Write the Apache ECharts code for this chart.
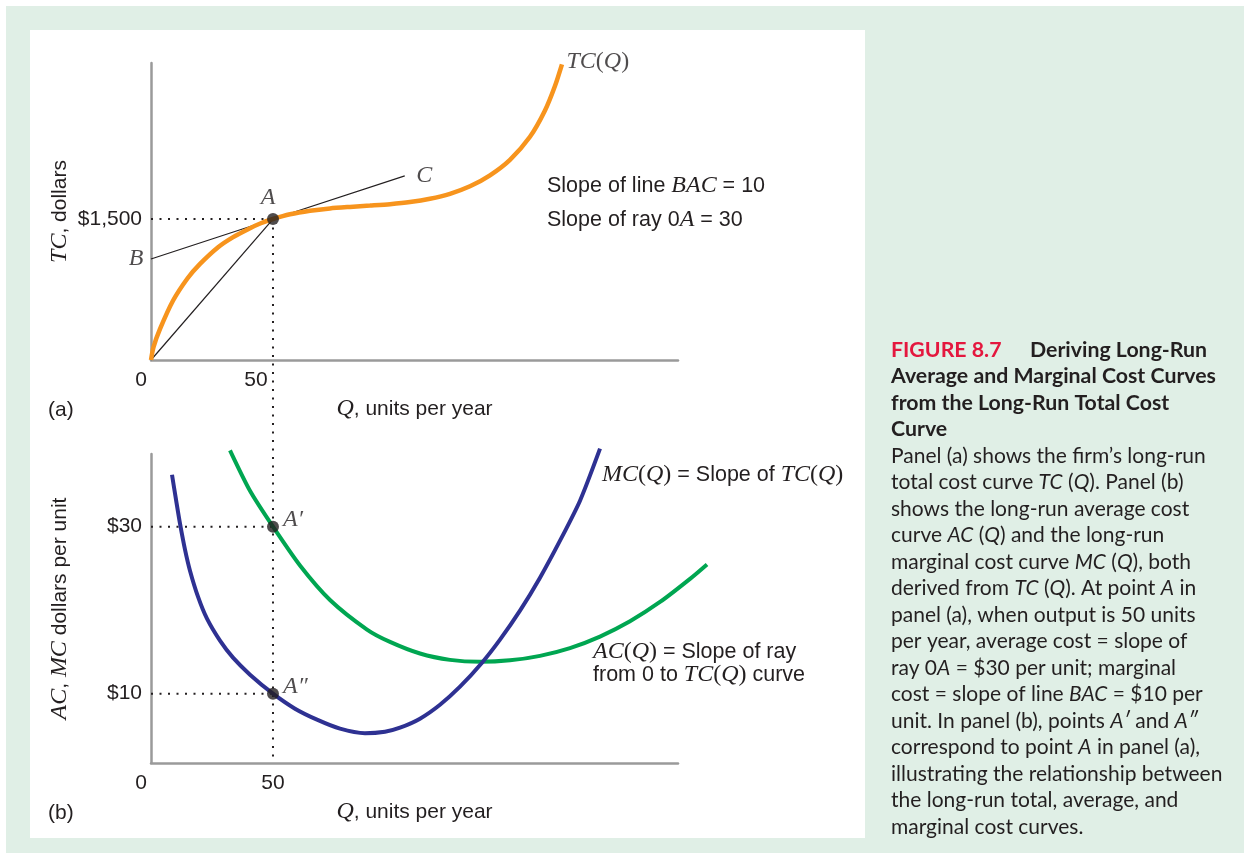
<!DOCTYPE html>
<html><head><meta charset="utf-8">
<script src="https://cdn.jsdelivr.net/npm/echarts@6/dist/echarts.min.js"></script>
<style>html,body{margin:0;padding:0;background:#fff;}#c{width:1244px;height:855px;}</style>
</head><body><div id="c"></div>
<script>
// ---------- data ----------
const tcCurve = [[0,0],[1,135],[3.7,330],[9,630],[15,870],[20,1020],[27.5,1200],[33.5,1305],[40,1395],[45,1455],[50,1500],
  [56.97,1550],[65.16,1588],[73.36,1613],[81.56,1629],[89.75,1643],[97.95,1658],[106.15,1680],[114.34,1715],[122.54,1768],
  [130.74,1848],[138.93,1965],[147.13,2130],[155.33,2375],[161.48,2655],[165.57,2915],[168.44,3146]];
const mcCurve = [[8.61,36.22],[10.25,33.23],[11.89,30.36],[13.94,27.25],[15.98,24.73],[19.26,21.62],[22.95,18.98],[28.28,16.35],
  [33.61,14.31],[40.58,12.28],[50,10],[59.02,8.20],[68.04,6.89],[77.47,5.81],[87.71,5.27],[95.91,5.45],[102.06,5.93],
  [110.25,7.01],[118.45,8.68],[126.65,10.84],[135.67,13.71],[143.04,16.47],[151.24,19.94],[159.44,23.89],[167.64,28.32],
  [175.84,33.11],[184.04,39.34]];
const acCurve = [[32.38,39.14],[40.57,34.30],[50,30],[61.07,25.35],[73.37,21.22],[88.53,17.68],[97.96,16.20],[110.25,14.81],
  [122.55,14.05],[134.85,13.81],[147.14,13.99],[159.44,14.53],[171.73,15.46],[184.03,16.84],[196.33,18.67],[208.62,20.98],
  [220.92,23.75],[227.89,25.48]];
const lineBAC = [[0,1075],[50,1500],[104,1959]];
const ray0A = [[0,0],[50,1500]];
const pointA = [50,1500];
const pointA1 = [50,30];
const pointA2 = [50,10];
const xTicks = [0,50];
const yTicksA = [1500];
const yTicksB = [10,30];
const guideBottomB = 2.4;
const captionLines = [
  '{b|Average and Marginal Cost Curves}',
  '{b|from the Long-Run Total Cost}',
  '{b|Curve}',
  'Panel (a) shows the firm\u2019s long-run',
  'total cost curve {it|TC} ({it|Q}). Panel (b)',
  'shows the long-run average cost',
  'curve {it|AC} ({it|Q}) and the long-run',
  'marginal cost curve {it|MC} ({it|Q}), both',
  'derived from {it|TC} ({it|Q}). At point {it|A} in',
  'panel (a), when output is 50 units',
  'per year, average cost = slope of',
  'ray 0{it|A} = $30 per unit; marginal',
  'cost = slope of line {it|BAC} = $10 per',
  'unit. In panel (b), points {it|A\u2032} and {it|A\u2033}',
  'correspond to point {it|A} in panel (a),',
  'illustrating the relationship between',
  'the long-run total, average, and',
  'marginal cost curves.'
];

// ---------- styles ----------
const SANS = 'Liberation Sans, Arial, sans-serif';
const SERIF = 'Liberation Serif, Times New Roman, serif';
const CAP = 'Lato, sans-serif';
const INK = '#231f20';
const AXIS = '#9a9a9a';
const FS = 21;
const SFS = 24;
const richMath = {
  i: {fontFamily: SERIF, fontStyle: 'italic', fontSize: SFS, color: INK, fill: INK},
  r: {fontFamily: SERIF, fontSize: SFS, color: INK, fill: INK},
  s: {fontFamily: SANS, fontSize: FS + 0.5, color: INK, fill: INK},
  a: {fontFamily: SANS, fontSize: FS, color: INK, fill: INK}
};
const capFS = 21;
const capTFS = 21.3;
const capRich = {
  red: {fontFamily: CAP, fontWeight: 'bold', fontSize: capTFS, fill: '#e4173e', color: '#e4173e'},
  b: {fontFamily: CAP, fontWeight: 'bold', fontSize: capTFS, fill: INK, color: INK},
  it: {fontFamily: CAP, fontStyle: 'italic', fontSize: capFS, fill: INK, color: INK}
};
const dotted = {color: INK, width: 2, type: [2, 6.5]};

function xAxisCfg(grid) {
  return {
    gridIndex: grid, type: 'value', min: 0, max: 216,
    axisLine: {show: true, onZero: false, lineStyle: {color: AXIS, width: 2.5}},
    axisTick: {show: false}, splitLine: {show: false},
    axisLabel: {
      customValues: xTicks, margin: 10, color: INK, fontFamily: SANS, fontSize: FS,
      formatter: v => v === 0 ? '{z|0}' : (grid === 0 ? '{f|50}' : '{g|50}'),
      rich: {z: {padding: [0, 20, 0, 0], fontSize: FS, fontFamily: SANS, color: INK},
             f: {padding: [0, 34, 0, 0], fontSize: FS, fontFamily: SANS, color: INK},
             g: {fontSize: FS, fontFamily: SANS, color: INK}}
    },
    name: '{i|Q}{a|, units per year}', nameLocation: 'middle', nameGap: 37,
    nameTextStyle: {rich: richMath}
  };
}
function yAxisCfg(grid, min, max, ticks, fmt, name) {
  return {
    gridIndex: grid, type: 'value', min, max,
    axisLine: {show: true, onZero: false, lineStyle: {color: AXIS, width: 2.5}},
    axisTick: {show: false}, splitLine: {show: false},
    axisLabel: {customValues: ticks, margin: 9, color: INK, fontFamily: SANS, fontSize: FS, formatter: fmt},
    name, nameLocation: 'middle', nameRotate: 90, nameGap: 79,
    nameTextStyle: {rich: richMath}
  };
}
const hiddenAxis = (grid, min, max) => ({gridIndex: grid, type: 'value', min, max, show: false});

const chart = echarts.init(document.getElementById('c'), null, {renderer: 'canvas'});
const ptLabel = (txt, pos, extra) => Object.assign({show: true, position: pos, formatter: txt, rich: richMath}, extra || {});
const curve = (color, width) => ({smooth: 0.25, symbol: 'none', clip: false, lineStyle: {color, width}, z: 3});

// grid 2 overlays grid 1 with the same scale, only wider, so AC can run past the axis end
const axisMaxB = 216, extMaxB = 240, gridW = 527;
chart.setOption({
  animation: false,
  grid: [
    {left: 151, top: 63, width: gridW, height: 297},
    {left: 151, top: 454, width: gridW, height: 309},
    {left: 151, top: 454, width: gridW * extMaxB / axisMaxB, height: 309}
  ],
  xAxis: [xAxisCfg(0), xAxisCfg(1), hiddenAxis(2, 0, extMaxB)],
  yAxis: [
    yAxisCfg(0, 0, 3160, yTicksA, v => '$' + v.toLocaleString('en-US'), '{i|TC}{a|, dollars}'),
    yAxisCfg(1, 1.7, 38.7, yTicksB, v => '$' + v, '{i|AC}{a|, }{i|MC}{a| dollars per unit}'),
    hiddenAxis(2, 1.7, 38.7)
  ],
  series: [
    {type: 'line', xAxisIndex: 0, yAxisIndex: 0, data: [[0, yTicksA[0]], pointA], symbol: 'none', lineStyle: dotted, z: 1},
    {type: 'line', xAxisIndex: 0, yAxisIndex: 0, data: ray0A, symbol: 'none', lineStyle: {color: INK, width: 1.2}, z: 2},
    {type: 'line', xAxisIndex: 0, yAxisIndex: 0, data: lineBAC, symbol: 'none', lineStyle: {color: INK, width: 1.2}, z: 2},
    Object.assign({type: 'line', xAxisIndex: 0, yAxisIndex: 0, data: tcCurve}, curve('#f7941d', 4.5)),
    {type: 'scatter', xAxisIndex: 0, yAxisIndex: 0, symbolSize: 1, itemStyle: {color: 'rgba(0,0,0,0)'}, z: 4,
     data: [
       {value: lineBAC[0], label: ptLabel('{i|B}', 'left', {distance: 7})},
       {value: lineBAC[2], label: ptLabel('{i|C}', 'right', {distance: 11})},
       {value: tcCurve[tcCurve.length - 1], label: ptLabel('{i|TC}{r|(}{i|Q}{r|)}', 'right', {distance: 4, offset: [0, -3]})}
     ]},
    {type: 'scatter', xAxisIndex: 0, yAxisIndex: 0, symbol: 'circle', symbolSize: 12, itemStyle: {color: INK}, z: 5,
     data: [{value: pointA, label: ptLabel('{i|A}', 'top', {distance: 3, offset: [-5, 0]})}]},

    {type: 'line', xAxisIndex: 1, yAxisIndex: 1, data: [[0, yTicksB[1]], pointA1], symbol: 'none', lineStyle: dotted, z: 1},
    {type: 'line', xAxisIndex: 1, yAxisIndex: 1, data: [[0, yTicksB[0]], pointA2], symbol: 'none', lineStyle: dotted, z: 1},
    Object.assign({type: 'line', xAxisIndex: 2, yAxisIndex: 2, data: acCurve}, curve('#00a651', 4)),
    Object.assign({type: 'line', xAxisIndex: 1, yAxisIndex: 1, data: mcCurve}, curve('#2e3192', 4)),
    {type: 'scatter', xAxisIndex: 1, yAxisIndex: 1, symbol: 'circle', symbolSize: 12, itemStyle: {color: INK}, z: 5,
     data: [
       {value: pointA1, label: ptLabel('{i|A\u2032}', 'right', {distance: 4, offset: [0, -7]})},
       {value: pointA2, label: ptLabel('{i|A\u2033}', 'right', {distance: 4, offset: [0, -7]})}
     ]}
  ]
});

// ---------- graphic overlay ----------
function txt(x, y, text, extra) {
  return {type: 'text', x, y, z: 10, silent: true,
    style: Object.assign({text, rich: richMath, fill: INK, fontFamily: SANS, fontSize: FS, align: 'left', verticalAlign: 'middle'}, extra || {})};
}
function cap(x, y, text, extra) {
  return {type: 'text', x, y, z: 10, silent: true,
    style: Object.assign({text, rich: capRich, fill: INK, fontFamily: CAP, fontSize: capFS, align: 'left', verticalAlign: 'middle'}, extra || {})};
}
const pTop = chart.convertToPixel({gridIndex: 0}, pointA);
const pBot = chart.convertToPixel({gridIndex: 1}, [pointA1[0], guideBottomB]);

const g = [
  {type: 'rect', z: -20, silent: true, shape: {x: 6, y: 6, width: 1238, height: 847}, style: {fill: '#e0efe6'}},
  {type: 'rect', z: -19, silent: true, shape: {x: 30, y: 30, width: 835, height: 808}, style: {fill: '#ffffff'}},
  {type: 'line', z: 1, silent: true, shape: {x1: pTop[0], y1: pTop[1], x2: pBot[0], y2: pBot[1]}, style: {stroke: INK, lineWidth: 2, lineDash: [2, 6.5]}},
  txt(48, 410, '(a)'),
  txt(48, 813, '(b)'),
  txt(547, 186, '{s|Slope of line }{i|BAC}{s| = 10}'),
  txt(547, 220, '{s|Slope of ray 0}{i|A}{s| = 30}'),
  txt(602, 475, '{i|MC}{r|(}{i|Q}{r|)}{s| = Slope of }{i|TC}{r|(}{i|Q}{r|)}'),
  txt(593, 652, '{i|AC}{r|(}{i|Q}{r|)}{s| = Slope of ray}'),
  txt(593, 675, '{s|from 0 to }{i|TC}{r|(}{i|Q}{r|)}{s| curve}'),
  cap(891, 350, '{red|FIGURE 8.7}'),
  cap(1030, 350, '{b|Deriving Long-Run}')
];
captionLines.forEach((l, k) => g.push(cap(891, 376.5 + k * 26.5, l)));
chart.setOption({graphic: g});
</script></body></html>
